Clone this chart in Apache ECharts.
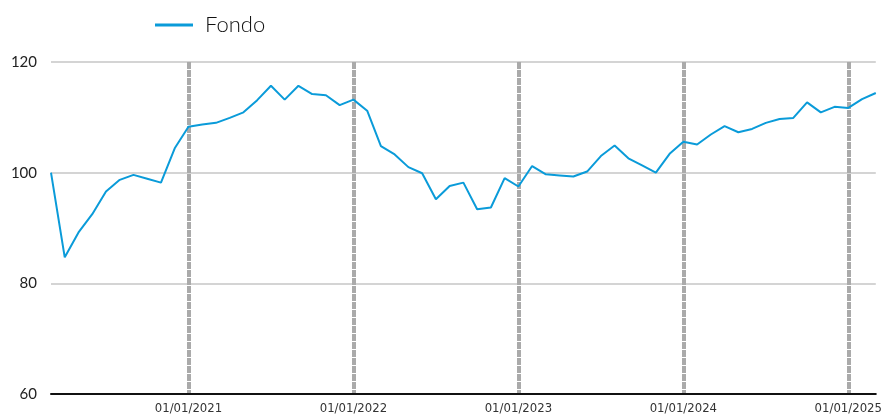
<!DOCTYPE html>
<html>
<head>
<meta charset="utf-8">
<script src="https://cdn.jsdelivr.net/npm/echarts@6/dist/echarts.min.js"></script>
<style>
  html, body { margin: 0; padding: 0; background: #fff; }
  #chart { width: 885px; height: 417px; }
</style>
</head>
<body>
<div id="chart"></div>
<script>
var months = [
    '2020-03', '2020-04', '2020-05', '2020-06', '2020-07', '2020-08', '2020-09', '2020-10', '2020-11', '2020-12',
    '2021-01', '2021-02', '2021-03', '2021-04', '2021-05', '2021-06', '2021-07', '2021-08', '2021-09', '2021-10', '2021-11', '2021-12',
    '2022-01', '2022-02', '2022-03', '2022-04', '2022-05', '2022-06', '2022-07', '2022-08', '2022-09', '2022-10', '2022-11', '2022-12',
    '2023-01', '2023-02', '2023-03', '2023-04', '2023-05', '2023-06', '2023-07', '2023-08', '2023-09', '2023-10', '2023-11', '2023-12',
    '2024-01', '2024-02', '2024-03', '2024-04', '2024-05', '2024-06', '2024-07', '2024-08', '2024-09', '2024-10', '2024-11', '2024-12',
    '2025-01', '2025-02', '2025-03'
];

var fondo = [
    100.0, 84.7, 89.2, 92.5, 96.6, 98.7, 99.6, 98.9, 98.2, 104.4,
    108.3, 108.7, 109.0, 109.9, 110.9, 113.1, 115.7, 113.2, 115.7, 114.2, 114.0, 112.2,
    113.2, 111.2, 104.8, 103.3, 101.0, 99.9, 95.2, 97.6, 98.2, 93.4, 93.7, 99.0,
    97.5, 101.2, 99.7, 99.5, 99.3, 100.2, 103.0, 104.9, 102.6, 101.3, 100.0, 103.4,
    105.6, 105.1, 106.9, 108.4, 107.3, 107.9, 109.0, 109.7, 109.9, 112.7, 110.9, 111.9,
    111.7, 113.3, 114.4
];

var yTicks = [60, 80, 100, 120];

function isJanuary(idx, val) {
    return val.slice(5) === '01';
}

var myChart = echarts.init(document.getElementById('chart'));

option = {
    animation: false,
    legend: {
        data: ['Fondo'],
        left: 150,
        top: 9,
        itemWidth: 38,
        itemHeight: 14,
        icon: 'path://M0,0 L38,0 L38,3 L0,3 Z',
        textStyle: {
            fontFamily: 'Lato',
            fontWeight: 300,
            fontSize: 22,
            color: '#111',
            padding: [0, 0, 0, 7]
        }
    },
    grid: {
        left: 51,
        right: 6,
        top: 62,
        bottom: 23
    },
    xAxis: {
        type: 'category',
        data: months,
        boundaryGap: false,
        axisLine: {
            lineStyle: { color: '#111', width: 2 }
        },
        axisTick: { show: false },
        axisLabel: {
            interval: isJanuary,
            fontFamily: 'DejaVu Sans Condensed, DejaVu Sans',
            fontSize: 13,
            color: '#333',
            margin: 8,
            formatter: function (val) {
                return '01/' + val.slice(5) + '/' + val.slice(0, 4);
            }
        },
        splitLine: {
            show: true,
            interval: isJanuary,
            lineStyle: {
                color: '#aaaaaa',
                width: 4,
                type: [7, 1]
            }
        }
    },
    yAxis: {
        type: 'value',
        min: yTicks[0],
        max: yTicks[yTicks.length - 1],
        interval: 20,
        axisLine: { show: false },
        axisTick: { show: false },
        axisLabel: {
            fontFamily: 'Lato',
            fontSize: 15,
            color: '#222',
            margin: 14
        },
        splitLine: {
            lineStyle: { color: '#d4d4d4', width: 2 }
        }
    },
    series: [{
        name: 'Fondo',
        type: 'line',
        data: fondo,
        symbol: 'none',
        lineStyle: { color: '#0a9bd9', width: 2 },
        itemStyle: { color: '#0a9bd9' },
        z: 3
    }]
};

myChart.setOption(option);
</script>
</body>
</html>
